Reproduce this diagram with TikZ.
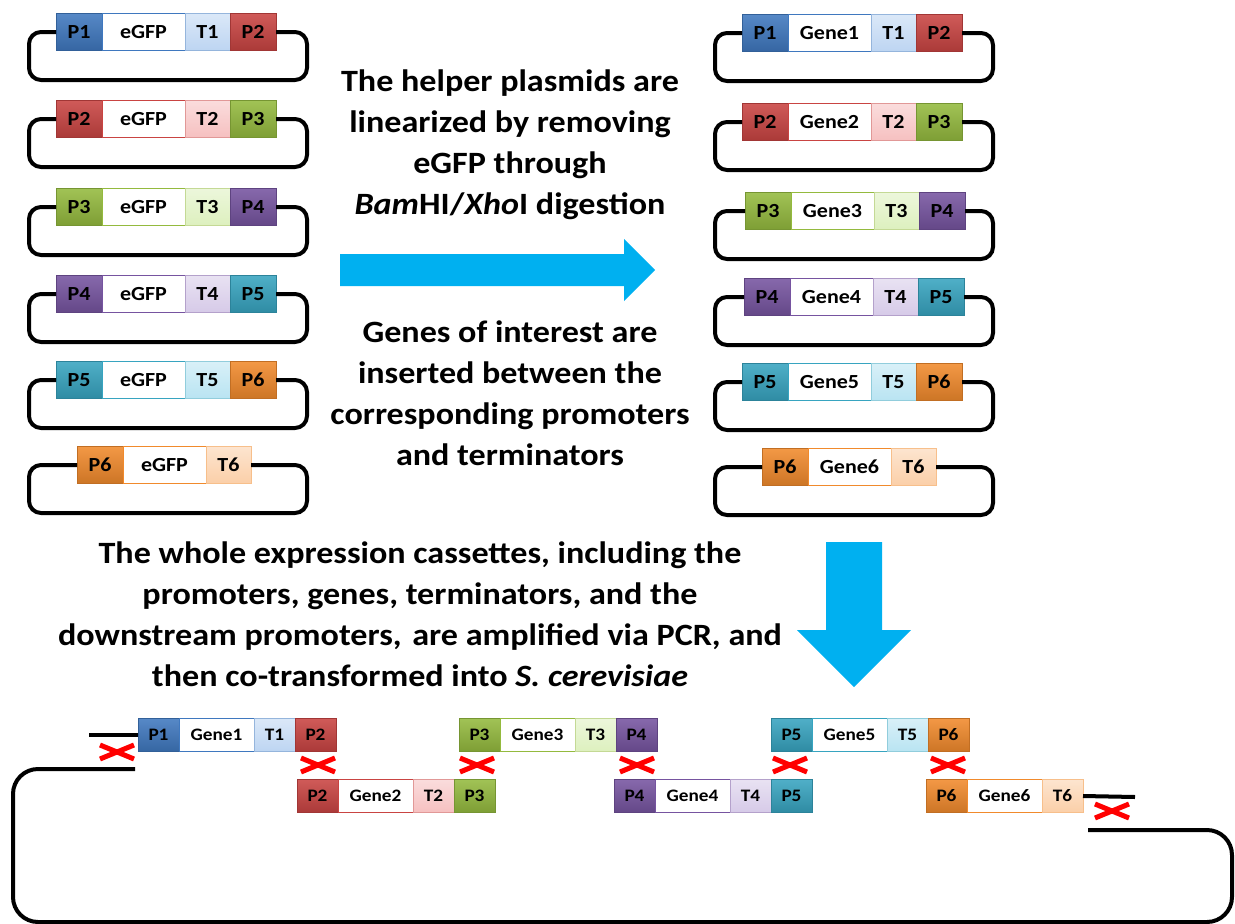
\documentclass[tikz,border=0pt]{standalone}
\usepackage{fontspec}
\setmainfont{Carlito}[FakeStretch=1.1]
\definecolor{c1}{HTML}{3F78BF}
\definecolor{c2}{HTML}{C94442}
\definecolor{c3}{HTML}{94BA3E}
\definecolor{c4}{HTML}{7654A0}
\definecolor{c5}{HTML}{37A4C0}
\definecolor{c6}{HTML}{F18A2C}
\definecolor{l1}{HTML}{BDD5F2}
\definecolor{l2}{HTML}{F6C0C0}
\definecolor{l3}{HTML}{DDF0BE}
\definecolor{l4}{HTML}{D6CAE8}
\definecolor{l5}{HTML}{B9E4F2}
\definecolor{l6}{HTML}{FBCFA8}
\definecolor{arrowc}{HTML}{00B0F0}
\usetikzlibrary{positioning}

\begin{document}
\begin{tikzpicture}[x=1pt,y=-1pt,
  box/.style={draw, inner sep=0pt, outer sep=0pt, minimum height=37pt, line width=1pt, font=\bfseries\fontsize{20}{24}\selectfont},
  pro/.style={box, minimum width=46pt, top color=c#1!88!white, bottom color=c#1!85!black, draw=c#1!80!black},
  gen/.style={box, minimum width=83pt, fill=white, draw=c#1},
  ter/.style={box, minimum width=45pt, top color=l#1!55!white, bottom color=l#1, draw=c#1!55!white},
  fp/.style={pro=#1, minimum height=33pt, minimum width=41pt, font=\bfseries\fontsize{17.5}{21}\selectfont},
  fg/.style={gen=#1, minimum height=33pt, minimum width=75pt, font=\bfseries\fontsize{17.5}{21}\selectfont},
  ft/.style={ter=#1, minimum height=33pt, minimum width=41pt, font=\bfseries\fontsize{17.5}{21}\selectfont},
  dna/.style={line width=4pt, rounded corners=12pt},
  cut/.style={red, line width=5pt},
  msg/.style={align=center, font=\bfseries\fontsize{31}{41}\selectfont}]
  \useasboundingbox (0,0) rectangle (1235,924);

  % helper plasmids with eGFP
  \foreach \i/\j/\y in {1/2/32,2/3/119,3/4/207,4/5/294,5/6/380} {
    \node[pro=\i, anchor=west] (L\i-p) at (56,\y) {P\i};
    \node[gen=\i, right=0pt of L\i-p] (L\i-g) {eGFP};
    \node[ter=\i, right=0pt of L\i-g] (L\i-t) {T\i};
    \node[pro=\j, right=0pt of L\i-t] (L\i-q) {P\j};
    \draw[dna] (L\i-p.west) -- (29,\y) -- (29,\y+48) -- (307,\y+48) -- (307,\y) -- (L\i-q.east);
  }
  \node[pro=6, anchor=west] (L6-p) at (77,465) {P6};
  \node[gen=6, right=0pt of L6-p] (L6-g) {eGFP};
  \node[ter=6, right=0pt of L6-g] (L6-t) {T6};
  \draw[dna] (L6-p.west) -- (29,465) -- (29,513) -- (307,513) -- (307,465) -- (L6-t.east);

  % plasmids carrying the genes
  \foreach \i/\j/\x/\y in {1/2/742/33,2/3/742/122,3/4/745/211,4/5/744/297,5/6/742/382} {
    \node[pro=\i, anchor=west] (R\i-p) at (\x,\y) {P\i};
    \node[gen=\i, right=0pt of R\i-p] (R\i-g) {Gene\i};
    \node[ter=\i, right=0pt of R\i-g] (R\i-t) {T\i};
    \node[pro=\j, right=0pt of R\i-t] (R\i-q) {P\j};
    \draw[dna] (R\i-p.west) -- (715,\y) -- (715,\y+48) -- (993,\y+48) -- (993,\y) -- (R\i-q.east);
  }
  \node[pro=6, anchor=west] (R6-p) at (762,467) {P6};
  \node[gen=6, right=0pt of R6-p] (R6-g) {Gene6};
  \node[ter=6, right=0pt of R6-g] (R6-t) {T6};
  \draw[dna] (R6-p.west) -- (715,467) -- (715,515) -- (993,515) -- (993,467) -- (R6-t.east);

  % arrows
  \fill[arrowc] (340,254) -- (624,254) -- (624,239) -- (655,270) -- (624,301) -- (624,286) -- (340,286) -- cycle;
  \fill[arrowc] (826,542) -- (882,542) -- (882,630) -- (911,630) -- (854,687) -- (797,630) -- (826,630) -- cycle;

  \node[msg] (step1) at (510,145) {The helper plasmids are\\linearized by removing\\eGFP through\\\textit{Bam}HI/\textit{Xho}I digestion};
  \node[msg] (step2) at (510,393) {Genes of interest are\\inserted between the\\corresponding promoters\\and terminators};
  \node[msg] (step3) at (420,614) {The whole expression cassettes, including the\\promoters, genes, terminators, and the\\downstream promoters,\hspace{3pt} are amplified via PCR, and\\then co-transformed into \textit{S. cerevisiae}};

  % PCR fragments
  \foreach \i/\j/\x/\y in {1/2/138/735,2/3/297/796,3/4/459/735,4/5/614/796,5/6/771/735} {
    \node[fp=\i, anchor=west] (F\i-p) at (\x,\y) {P\i};
    \node[fg=\i, right=0pt of F\i-p] (F\i-g) {Gene\i};
    \node[ft=\i, right=0pt of F\i-g] (F\i-t) {T\i};
    \node[fp=\j, right=0pt of F\i-t] (F\i-q) {P\j};
  }
  \node[fp=6, anchor=west] (F6-p) at (926,796) {P6};
  \node[fg=6, right=0pt of F6-p] (F6-g) {Gene6};
  \node[ft=6, right=0pt of F6-g] (F6-t) {T6};

  % linearized vector
  \coordinate (vl) at (89,735);
  \coordinate (vr) at (1135,797);
  \coordinate (va) at (135,769);
  \coordinate (vb) at (1088,830);
  \draw[line width=4pt] (F1-p.west) -- (vl);
  \draw[line width=4pt] (F6-t.east) -- (vr);
  \draw[dna, rounded corners=25pt] (va) -- (13,769) -- (13,922) -- (1232,922) -- (1232,830) -- (vb);

  % recombination sites
  \foreach \x/\y in {117/752,318/765,477/765,637/765,790/765,948/765,1112/811}
    \draw[cut] (\x-17,\y-7) -- (\x+17,\y+7) (\x-17,\y+7) -- (\x+17,\y-7);
\end{tikzpicture}
\end{document}
